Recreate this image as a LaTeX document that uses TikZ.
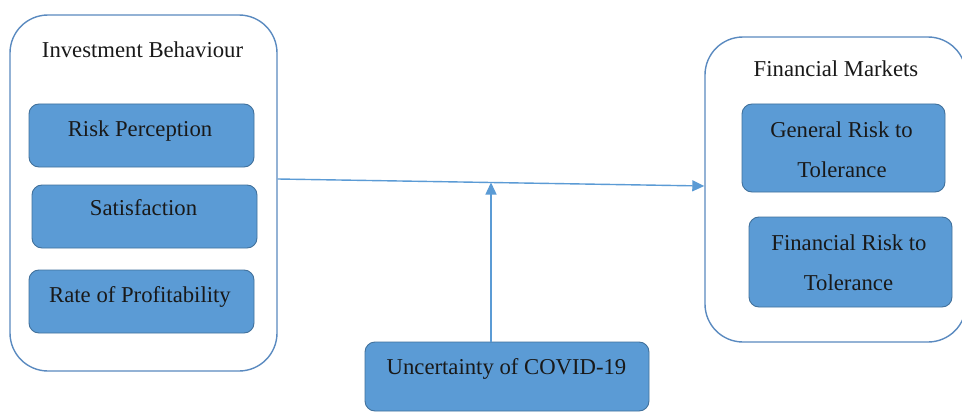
\documentclass[tikz,border=0pt]{standalone}
\usepackage{fontspec}
\setmainfont{Liberation Serif}
\usetikzlibrary{arrows.meta,calc}
\definecolor{fillblue}{HTML}{5B9BD5}
\definecolor{edgeblue}{HTML}{41719C}
\definecolor{lineblue}{HTML}{5B9BD5}
\definecolor{outerblue}{HTML}{5A8AC0}
\begin{document}
\begin{tikzpicture}[x=1pt,y=-1pt,
  outerbox/.style={draw=outerblue,line width=1.4pt,rounded corners=38pt,inner sep=0pt,fill=white},
  innerbox/.style={draw=edgeblue,line width=0.9pt,fill=fillblue,rounded corners=10pt,inner sep=0pt},
  txt/.style={anchor=base,inner sep=0pt,font=\fontsize{22.7}{28}\selectfont,text=black!90},
  conn/.style={draw=lineblue,line width=1.4pt,-{Triangle[length=12pt,width=11pt]}}]
\clip (0,0) rectangle (962,412);
\fill[white] (0,0) rectangle (962,412);
% outer groups
\node[outerbox,minimum width=267pt,minimum height=356pt] (ib) at (143.5,193) {};
\node[outerbox,minimum width=261pt,minimum height=305pt] (fm) at (835.5,189.5) {};
% inner boxes
\node[innerbox,minimum width=225pt,minimum height=63pt] (rp) at (141.5,135.5) {};
\node[innerbox,minimum width=225pt,minimum height=63pt] (sat) at (144.5,216.5) {};
\node[innerbox,minimum width=225pt,minimum height=63pt] (rop) at (141.5,301.5) {};
\node[innerbox,minimum width=203pt,minimum height=88pt] (grt) at (843.5,148) {};
\node[innerbox,minimum width=203pt,minimum height=90pt] (frt) at (850.5,262) {};
\node[innerbox,minimum width=284pt,minimum height=69pt] (cov) at (507,376.5) {};
% texts
\node[txt] (t1) at (142.5,58) {Investment Behaviour};
\node[txt] (t2) at (140,136) {Risk Perception};
\node[txt] (t3) at (143.5,215) {Satisfaction};
\node[txt] (t4) at (140,302) {Rate of Profitability};
\node[txt] (t5) at (836,77) {Financial Markets};
\node[txt] (t6) at (841.5,137) {General Risk to};
\node[txt] (t7) at (842,177) {Tolerance};
\node[txt] (t8) at (849,250) {Financial Risk to};
\node[txt] (t9) at (848.5,290) {Tolerance};
\node[txt] (t10) at (506.5,374) {Uncertainty of COVID-19};
% connectors
\coordinate (a) at (ib.east |- 0,179);
\coordinate (b) at (fm.west |- 0,186);
\coordinate (m) at ($(a)!0.5!(b)$);
\draw[conn] (a) -- (b);
\draw[conn] (cov.north -| m) -- (m);
\end{tikzpicture}
\end{document}
